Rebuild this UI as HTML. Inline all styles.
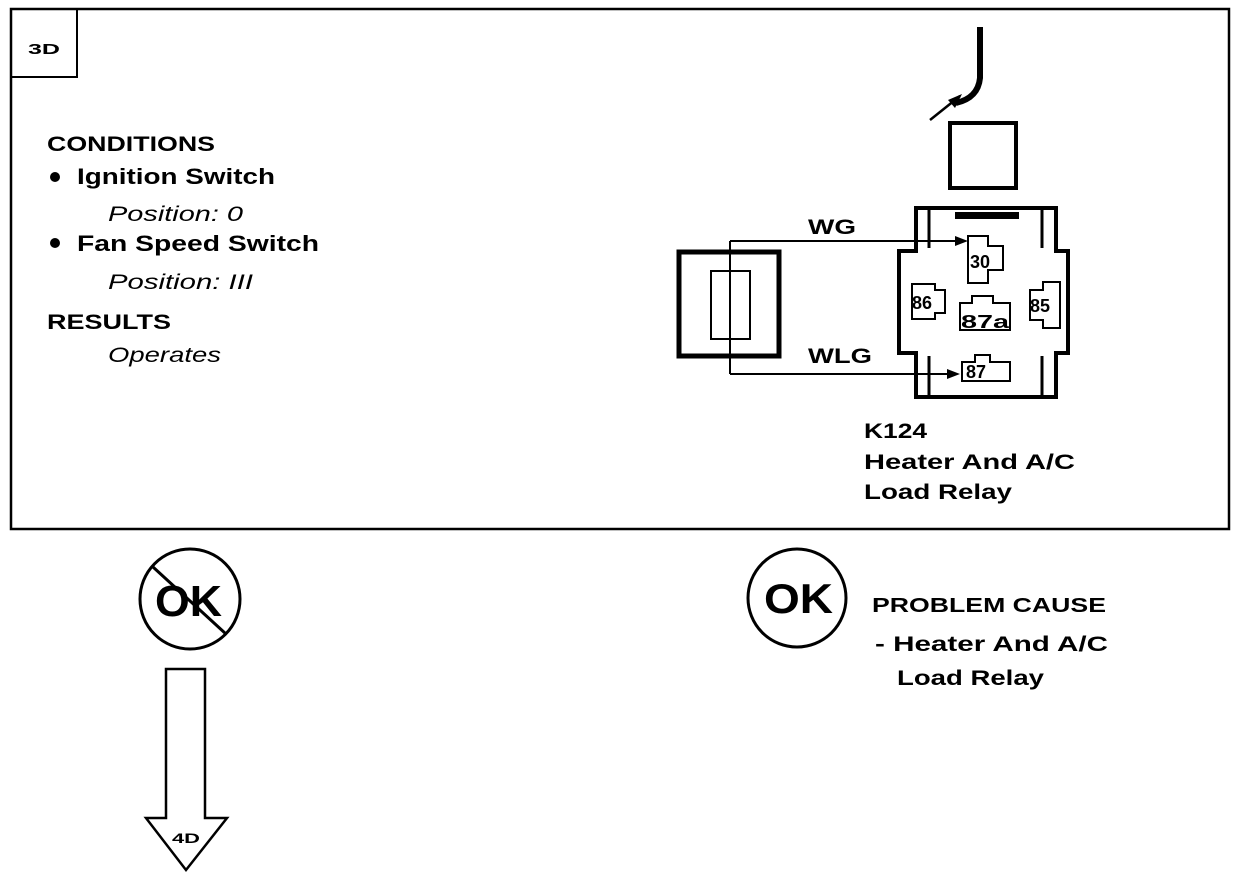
<!DOCTYPE html>
<html><head><style>
body{margin:0;background:#fff;}
svg text{font-family:"Liberation Sans",sans-serif;fill:#000;}
.b{font-weight:bold;}
.i{font-style:italic;font-weight:normal;}
.n{font-weight:normal;}
</style></head><body>
<svg width="1248" height="878" viewBox="0 0 1248 878" xmlns="http://www.w3.org/2000/svg">
<rect x="11" y="9" width="1218" height="520" fill="none" stroke="#000" stroke-width="2.5"/>
<rect x="11" y="9" width="66" height="68" fill="none" stroke="#000" stroke-width="2"/>
<text class="b" x="28" y="54" font-size="15" textLength="32" lengthAdjust="spacingAndGlyphs">3D</text>
<text class="b" x="47" y="151" font-size="21" textLength="168" lengthAdjust="spacingAndGlyphs">CONDITIONS</text>
<circle cx="55" cy="177" r="5"/>
<text class="b" x="77" y="184" font-size="22" textLength="198" lengthAdjust="spacingAndGlyphs">Ignition Switch</text>
<text class="i" x="108" y="221" font-size="21" textLength="135" lengthAdjust="spacingAndGlyphs">Position: 0</text>
<circle cx="55" cy="243" r="5"/>
<text class="b" x="77" y="251" font-size="22" textLength="242" lengthAdjust="spacingAndGlyphs">Fan Speed Switch</text>
<text class="i" x="108" y="289" font-size="21" textLength="145" lengthAdjust="spacingAndGlyphs">Position: III</text>
<text class="b" x="47" y="329" font-size="21" textLength="124" lengthAdjust="spacingAndGlyphs">RESULTS</text>
<text class="i" x="108" y="362" font-size="21" textLength="113" lengthAdjust="spacingAndGlyphs">Operates</text>

<path d="M980 27 L980 78 Q978 98 956 103" fill="none" stroke="#000" stroke-width="6"/>
<line x1="930" y1="120" x2="960" y2="96" stroke="#000" stroke-width="2.5"/>
<polygon points="962,94 948,100 955,108" fill="#000"/>
<rect x="950" y="123" width="66" height="65" fill="none" stroke="#000" stroke-width="4"/>

<path d="M916 208 L1056 208 L1056 251 L1068 251 L1068 353 L1056 353 L1056 397 L916 397 L916 353 L899 353 L899 251 L916 251 Z" fill="none" stroke="#000" stroke-width="4"/>
<path d="M929 208 L929 248 M1042 208 L1042 248 M929 356 L929 397 M1042 356 L1042 397" stroke="#000" stroke-width="3"/>
<rect x="955" y="212" width="64" height="7" fill="#000"/>
<path d="M968 236 L988 236 L988 246 L1003 246 L1003 270 L988 270 L988 283 L968 283 Z" fill="#fff" stroke="#000" stroke-width="2"/>
<text class="b" x="970" y="268" font-size="18">30</text>
<path d="M912 284 L935 284 L935 290 L945 290 L945 313 L935 313 L935 319 L912 319 Z" fill="none" stroke="#000" stroke-width="2"/>
<text class="b" x="912" y="309" font-size="18">86</text>
<path d="M1043 282 L1060 282 L1060 328 L1043 328 L1043 320 L1030 320 L1030 290 L1043 290 Z" fill="none" stroke="#000" stroke-width="2"/>
<text class="b" x="1030" y="312" font-size="18">85</text>
<path d="M972 296 L993 296 L993 303 L1010 303 L1010 330 L960 330 L960 303 L972 303 Z" fill="none" stroke="#000" stroke-width="2"/>
<text class="b" x="961" y="328" font-size="18" textLength="48" lengthAdjust="spacingAndGlyphs">87a</text>
<path d="M975 355 L990 355 L990 362 L1010 362 L1010 381 L962 381 L962 362 L975 362 Z" fill="#fff" stroke="#000" stroke-width="2"/>
<text class="b" x="966" y="378" font-size="18">87</text>

<rect x="679" y="252" width="100" height="104" fill="none" stroke="#000" stroke-width="5"/>
<rect x="711" y="271" width="39" height="68" fill="none" stroke="#000" stroke-width="2"/>
<path d="M730 241 L730 374 M730 241 L960 241 M730 374 L955 374" fill="none" stroke="#000" stroke-width="2"/>
<polygon points="968,241 955,236 955,246" fill="#000"/>
<polygon points="960,374 947,369 947,379" fill="#000"/>
<text class="b" x="808" y="234" font-size="21" textLength="48" lengthAdjust="spacingAndGlyphs">WG</text>
<text class="b" x="808" y="363" font-size="21" textLength="64" lengthAdjust="spacingAndGlyphs">WLG</text>
<text class="b" x="864" y="438" font-size="21" textLength="63" lengthAdjust="spacingAndGlyphs">K124</text>
<text class="b" x="864" y="469" font-size="21" textLength="211" lengthAdjust="spacingAndGlyphs">Heater And A/C</text>
<text class="b" x="864" y="499" font-size="21" textLength="148" lengthAdjust="spacingAndGlyphs">Load Relay</text>

<circle cx="190" cy="599" r="50" fill="none" stroke="#000" stroke-width="3"/>
<text class="b" x="155" y="616" font-size="44" textLength="67" lengthAdjust="spacingAndGlyphs">OK</text>
<line x1="153" y1="567" x2="226" y2="634" stroke="#000" stroke-width="3"/>
<polygon points="166,669 205,669 205,818 227,818 186,870 146,818 166,818" fill="none" stroke="#000" stroke-width="2.5"/>
<text class="b" x="172" y="843" font-size="14" textLength="28" lengthAdjust="spacingAndGlyphs">4D</text>

<circle cx="797" cy="598" r="49" fill="none" stroke="#000" stroke-width="3"/>
<text class="b" x="764" y="613" font-size="42" textLength="69" lengthAdjust="spacingAndGlyphs">OK</text>
<text class="b" x="872" y="612" font-size="20" textLength="234" lengthAdjust="spacingAndGlyphs">PROBLEM CAUSE</text>
<text class="b" x="875" y="651" font-size="21" textLength="233" lengthAdjust="spacingAndGlyphs">- Heater And A/C</text>
<text class="b" x="897" y="685" font-size="21" textLength="147" lengthAdjust="spacingAndGlyphs">Load Relay</text>
</svg>
</body></html>
